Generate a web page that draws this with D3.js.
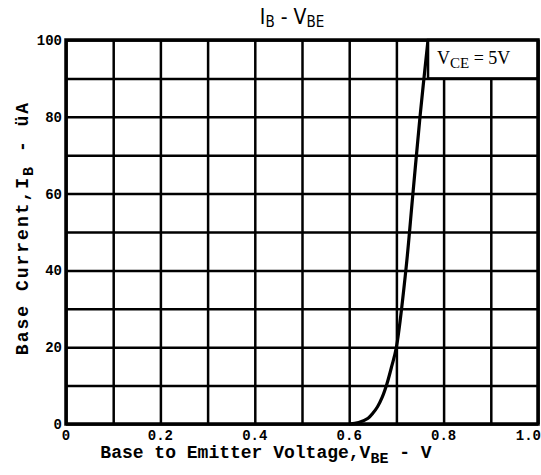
<!DOCTYPE html>
<html>
<head>
<meta charset="utf-8">
<script src="https://cdn.jsdelivr.net/npm/d3@7"></script>
<style>
  body { margin: 0; background: #fff; }
  svg text { font-family: "Liberation Mono", "DejaVu Sans Mono", monospace; fill: #000; }
</style>
</head>
<body>
<div id="chart"></div>
<script>
// data
var vbe = [0.60, 0.62, 0.64, 0.65, 0.66, 0.67, 0.68, 0.69, 0.70, 0.72, 0.735, 0.75, 0.767];
var ib  = [0,    0.4,  1.5,  2.8,  4.5,  7,    10.5, 15,   20,   40,   60,    80,   100];
var xTicks = [0, 0.2, 0.4, 0.6, 0.8, 1.0];
var xTickLabels = ["0", "0.2", "0.4", "0.6", "0.8", "1.0"];
var yTicks = [0, 20, 40, 60, 80, 100];
var yTickLabels = ["0", "20", "40", "60", "80", "100"];

var W = 541, H = 475;
var m = {left: 66, right: 3, top: 40, bottom: 51};
var w = W - m.left - m.right, h = H - m.top - m.bottom;

var svg = d3.select("#chart").append("svg")
    .attr("width", W).attr("height", H);

var g = svg.append("g")
    .attr("transform", "translate(" + m.left + "," + m.top + ")");

var x = d3.scaleLinear().domain([0, 1]).range([0, w]);
var y = d3.scaleLinear().domain([0, 100]).range([h, 0]);

// grid lines
g.append("g")
    .attr("transform", "translate(0," + h + ")")
    .call(d3.axisBottom(x).tickValues(d3.range(0, 1.01, 0.1)).tickSize(-h).tickFormat(""))
    .call(function(s) { s.select(".domain").remove(); })
    .selectAll("line").attr("stroke", "#000").attr("stroke-width", 2.5);

g.append("g")
    .call(d3.axisLeft(y).tickValues(d3.range(0, 101, 10)).tickSize(-w).tickFormat(""))
    .call(function(s) { s.select(".domain").remove(); })
    .selectAll("line").attr("stroke", "#000").attr("stroke-width", 2.5);

// curve
var line = d3.line()
    .x(function(d, i) { return x(d); })
    .y(function(d, i) { return y(ib[i]); })
    .curve(d3.curveCatmullRom.alpha(0.5));

g.append("path")
    .datum(vbe)
    .attr("d", line)
    .attr("fill", "none")
    .attr("stroke", "#000")
    .attr("stroke-width", 3.2);

// condition box
var bx = x(0.767);
g.append("rect")
    .attr("x", bx).attr("y", 0)
    .attr("width", w - bx).attr("height", y(90))
    .attr("fill", "#fff").attr("stroke", "#000").attr("stroke-width", 2.5);

var cond = g.append("text")
    .attr("x", bx + 9).attr("y", 24)
    .style("font-family", "'Liberation Serif', serif")
    .style("font-size", "18px");
cond.append("tspan").text("V");
cond.append("tspan").attr("dy", 4).style("font-size", "15px").text("CE");
cond.append("tspan").attr("dy", -4).text(" = 5V");

// frame
g.append("rect")
    .attr("width", w).attr("height", h)
    .attr("fill", "none").attr("stroke", "#000").attr("stroke-width", 3.5);

// tick labels
g.selectAll(".xl").data(xTicks).enter().append("text")
    .attr("x", function(d, i) { return i === xTicks.length - 1 ? x(d) + 3 : x(d); })
    .attr("y", h + 16)
    .attr("text-anchor", function(d, i) { return i === xTicks.length - 1 ? "end" : "middle"; })
    .style("font-size", "14px").style("font-weight", "bold")
    .text(function(d, i) { return xTickLabels[i]; });

g.selectAll(".yl").data(yTicks).enter().append("text")
    .attr("x", -4)
    .attr("y", function(d) { return y(d) + 5; })
    .attr("text-anchor", "end")
    .style("font-size", "14px").style("font-weight", "bold")
    .text(function(d, i) { return yTickLabels[i]; });

// title
var t = svg.append("text")
    .attr("x", 292).attr("y", 24)
    .attr("text-anchor", "middle")
    .style("font-family", "'DejaVu Sans Condensed', 'DejaVu Sans', sans-serif")
    .style("font-size", "21px");
t.append("tspan").text("I");
t.append("tspan").attr("dy", 3).style("font-size", "15px").text("B");
t.append("tspan").attr("dy", -3).text(" - V");
t.append("tspan").attr("dy", 3).style("font-size", "15px").text("BE");

// x axis title
var xt = svg.append("text")
    .attr("x", 266).attr("y", 458)
    .attr("text-anchor", "middle")
    .style("font-size", "18px").style("font-weight", "bold");
xt.append("tspan").text("Base to Emitter Voltage,V");
xt.append("tspan").attr("dy", 5).style("font-size", "15px").text("BE");
xt.append("tspan").attr("dy", -5).text(" - V");

// y axis title
var yt = svg.append("text")
    .attr("transform", "translate(28,228) rotate(-90)")
    .attr("text-anchor", "middle")
    .style("font-size", "18px").style("font-weight", "bold")
    .style("letter-spacing", "2px");
yt.append("tspan").text("Base Current,I");
yt.append("tspan").attr("dy", 5).style("font-size", "15px").text("B");
yt.append("tspan").attr("dy", -5).text(" - üA");
</script>
</body>
</html>
